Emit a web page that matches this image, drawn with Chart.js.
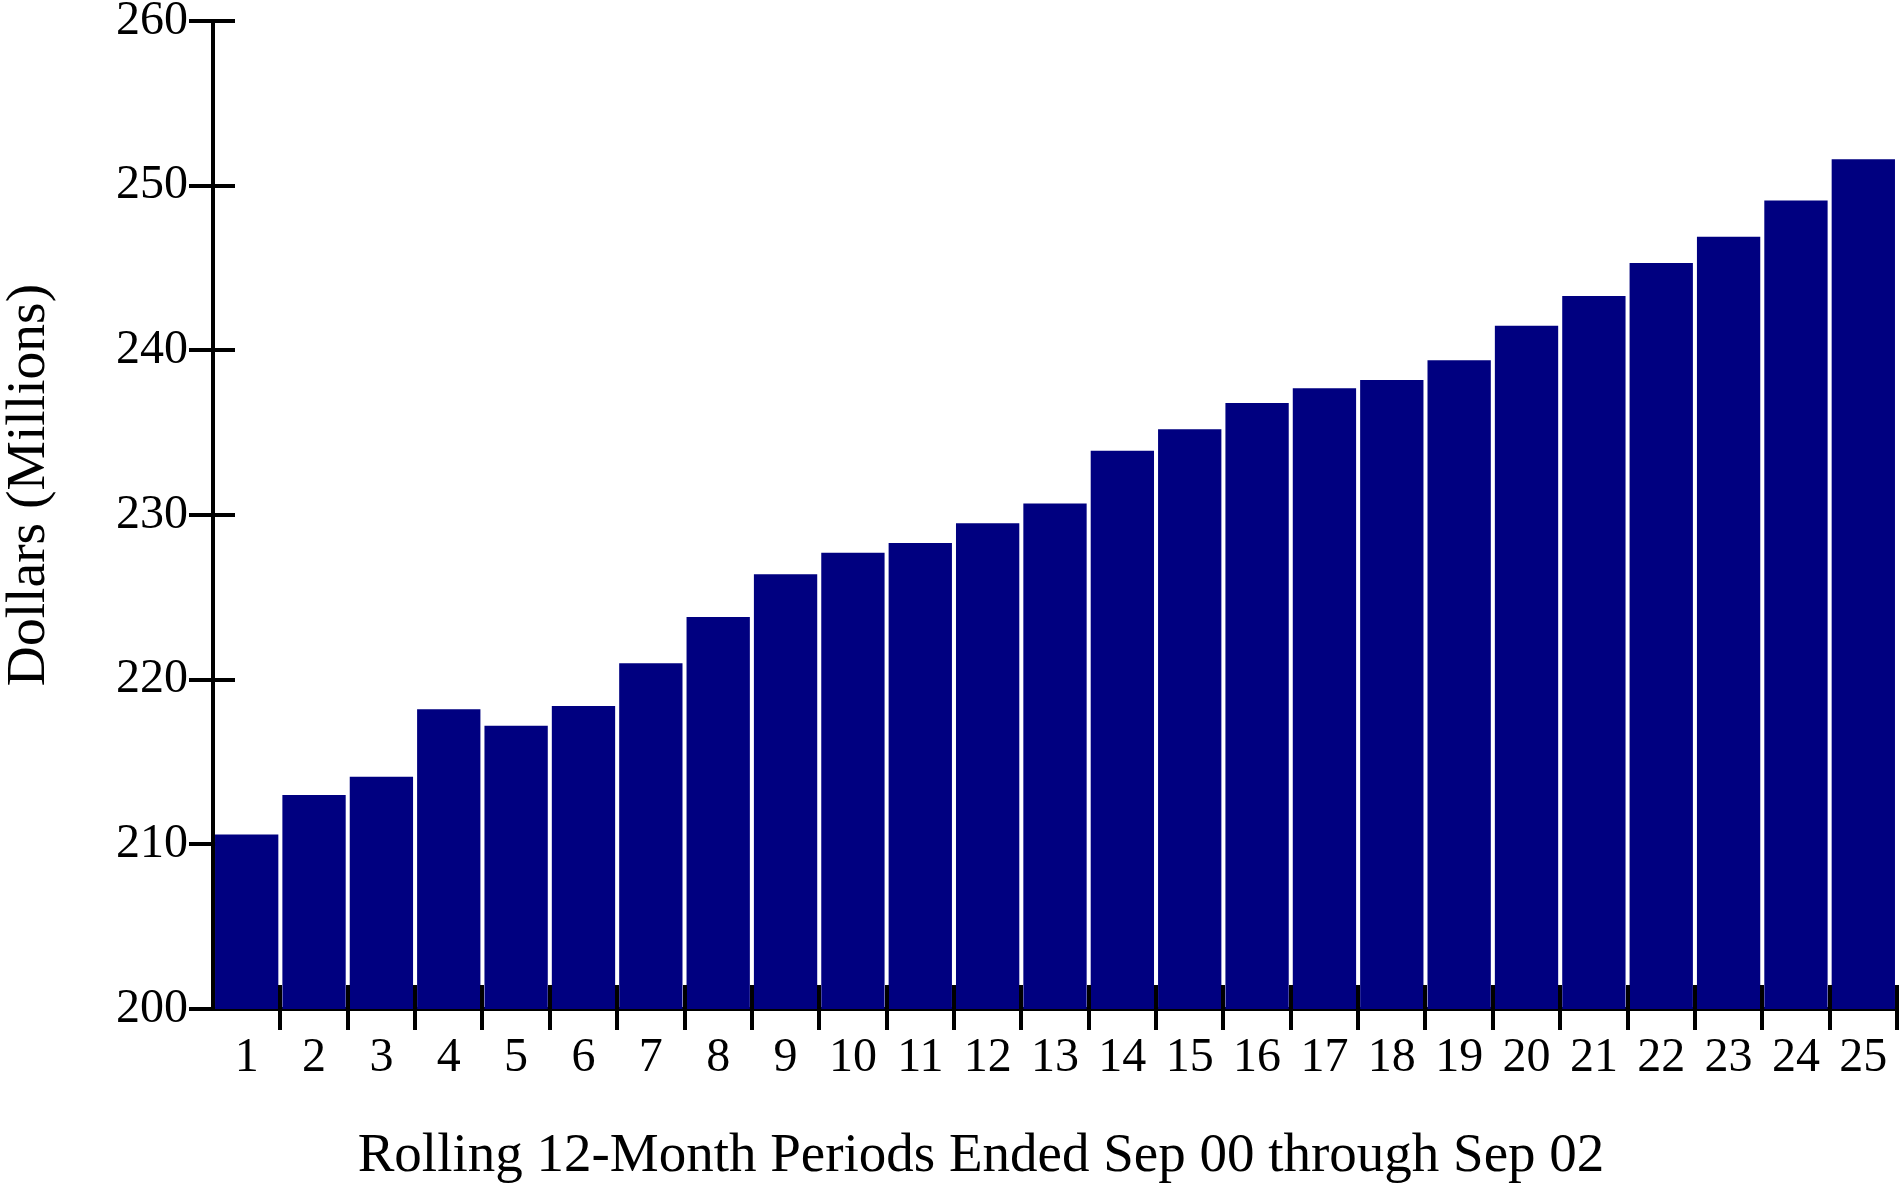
<!DOCTYPE html>
<html>
<head>
<meta charset="utf-8">
<script src="https://cdn.jsdelivr.net/npm/chart.js@4.4.1/dist/chart.umd.min.js"></script>
<style>
html, body { margin: 0; padding: 0; background: #ffffff; }
#wrap { width: 1902px; height: 1188px; }
canvas { display: block; }
</style>
</head>
<body>
<div id="wrap"><canvas id="chart" width="1902" height="1188"></canvas></div>
<script>
// ---- data ----
const categories = ['1','2','3','4','5','6','7','8','9','10','11','12','13','14','15','16','17','18','19','20','21','22','23','24','25'];
const values = [210.6, 213.0, 214.1, 218.2, 217.2, 218.4, 221.0, 223.8, 226.4, 227.7, 228.3, 229.5, 230.7, 233.9, 235.2, 236.8, 237.7, 238.2, 239.4, 241.5, 243.3, 245.3, 246.9, 249.1, 251.6];
const yMin = 200;
const yMax = 260;
const yStep = 10;
const xTitle = 'Rolling 12-Month Periods Ended Sep 00 through Sep 02';
const yTitle = 'Dollars (Millions)';

const FONT = "'Liberation Serif', 'Times New Roman', serif";
const LINE_W = 4;

// tick marks crossing into the plot area, and axis titles
const crossTicks = {
  id: 'crossTicks',
  beforeDatasetsDraw(chart) {
    const ctx = chart.ctx;
    const y = chart.scales.y;
    const area = chart.chartArea;
    ctx.save();
    ctx.strokeStyle = '#000';
    ctx.lineWidth = LINE_W;
    ctx.beginPath();
    y.ticks.forEach(t => {
      const py = Math.round(y.getPixelForValue(t.value));
      ctx.moveTo(area.left, py);
      ctx.lineTo(area.left + 22, py);
    });
    ctx.stroke();
    ctx.restore();
  },
  afterDatasetsDraw(chart) {
    const ctx = chart.ctx;
    const x = chart.scales.x;
    const area = chart.chartArea;
    ctx.save();
    ctx.strokeStyle = '#000';
    ctx.lineWidth = LINE_W;
    ctx.beginPath();
    for (let i = 1; i <= x.ticks.length; i++) {
      let px;
      if (i < x.ticks.length) {
        px = (x.getPixelForTick(i - 1) + x.getPixelForTick(i)) / 2;
      } else {
        px = area.right;
      }
      px = Math.round(px);
      ctx.moveTo(px, area.bottom);
      ctx.lineTo(px, area.bottom - 24);
    }
    ctx.stroke();
    ctx.restore();
  },
  afterDraw(chart) {
    const ctx = chart.ctx;
    ctx.save();
    ctx.fillStyle = '#000';
    ctx.font = '55px ' + FONT;
    ctx.textAlign = 'center';
    ctx.textBaseline = 'alphabetic';
    ctx.fillText(xTitle, 981, 1171);
    ctx.font = '55.5px ' + FONT;
    ctx.translate(44, 485);
    ctx.rotate(-Math.PI / 2);
    ctx.fillText(yTitle, 0, 0);
    ctx.restore();
  }
};

new Chart(document.getElementById('chart'), {
  type: 'bar',
  data: {
    labels: categories,
    datasets: [{
      data: values,
      backgroundColor: '#000080',
      borderWidth: 0,
      barPercentage: 0.94,
      categoryPercentage: 1.0
    }]
  },
  options: {
    responsive: false,
    animation: false,
    devicePixelRatio: 1,
    layout: { padding: { top: 21, right: 5, left: 0, bottom: 0 } },
    plugins: {
      legend: { display: false },
      tooltip: { enabled: false },
      title: { display: false }
    },
    scales: {
      x: {
        type: 'category',
        offset: true,
        grid: {
          display: true,
          offset: true,
          drawOnChartArea: false,
          drawTicks: true,
          tickLength: 21,
          lineWidth: LINE_W,
          color: (c) => (c.index === 0 ? 'rgba(0,0,0,0)' : '#000')
        },
        border: { display: true, color: '#000', width: LINE_W },
        ticks: {
          color: '#000',
          font: { family: FONT, size: 48, lineHeight: 1.0 },
          padding: 4,
          maxRotation: 0,
          minRotation: 0,
          autoSkip: false
        },
        afterFit(scale) { scale.height = 179; }
      },
      y: {
        min: yMin,
        max: yMax,
        grid: {
          display: true,
          drawOnChartArea: false,
          drawTicks: true,
          tickLength: 24,
          lineWidth: LINE_W,
          color: '#000'
        },
        border: { display: true, color: '#000', width: LINE_W },
        ticks: {
          stepSize: yStep,
          color: '#000',
          font: { family: FONT, size: 48, lineHeight: 0.8 },
          padding: 1
        },
        afterFit(scale) { scale.width = 213; }
      }
    }
  },
  plugins: [crossTicks]
});
</script>
</body>
</html>
